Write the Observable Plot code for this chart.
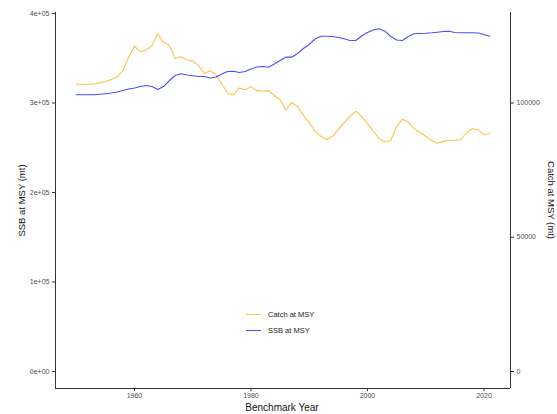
<!DOCTYPE html>
<html>
<head>
<meta charset="utf-8">
<script src="https://cdn.jsdelivr.net/npm/d3@7"></script>
<script src="https://cdn.jsdelivr.net/npm/@observablehq/plot@0.6"></script>
<style>
  html, body { margin: 0; padding: 0; background: #fff; }
  #wrap { position: relative; width: 557px; height: 414px; font-family: "Liberation Sans", Arial, sans-serif; }
  #legend { position: absolute; left: 246px; top: 306px; font-size: 7.5px; color: #222; }
  .item { display: flex; align-items: center; height: 16px; }
  .key { width: 15px; height: 0; border-top: 1.3px solid; margin-right: 7px; }
</style>
</head>
<body>
<div id="wrap"><div id="legend"></div></div>
<script>
const years = d3.range(1950, 2022);
const catchMSY = [
  107000,107000,107000,107000,107500,108000,108700,109800,112000,116900,
  121200,119100,119700,121300,125800,122500,121500,116600,117200,116000,
  115700,113900,111000,112000,110500,107100,103500,103000,105600,104900,
  106100,104600,104400,104600,102800,101200,97400,100200,98700,95400,
  92700,89400,87600,86300,87600,90200,92700,94900,97000,94900,
  92300,89400,86800,85500,86100,91200,94000,92900,90500,89000,
  87600,86100,85000,85700,86100,86100,86300,89000,90400,90000,
  88100,88800
];
const ssbMSY = [
  309200,309200,309200,309200,309800,310400,311100,312300,314000,315600,
  316800,318400,319500,318400,315100,318400,325100,330700,332600,331300,
  330500,329600,329600,327900,329000,332400,335200,335500,334100,335200,
  338000,340200,340800,340000,343600,347500,351200,351200,355300,360900,
  365400,371500,374500,374500,374300,373200,371700,369800,369800,374900,
  378800,381600,382900,380200,374300,370400,369800,374300,377300,377700,
  377900,378400,379100,379900,380200,378800,378400,378400,378400,378200,
  376500,374600
];
const seriesNames = ["Catch at MSY", "SSB at MSY"];
const seriesColors = ["orange", "blue"];
const leftTicks = [0, 100000, 200000, 300000, 400000];
const leftTickLabels = ["0e+00", "1e+05", "2e+05", "3e+05", "4e+05"];
const rightTicks = [0, 50000, 100000];
const xTicks = [1960, 1980, 2000, 2020];
const secRatio = 3; // catch axis = SSB / 3

const rows = [];
years.forEach((yr, i) => {
  rows.push({year: yr, value: catchMSY[i] * secRatio, series: seriesNames[0]});
  rows.push({year: yr, value: ssbMSY[i], series: seriesNames[1]});
});

const xDom = [1946.45, 2024.55];
const yDom = [-19000, 401100];

const chart = Plot.plot({
  width: 557,
  height: 414,
  marginLeft: 55,
  marginRight: 47,
  marginTop: 12,
  marginBottom: 26,
  style: {fontFamily: "Liberation Sans, Arial, sans-serif", background: "white", overflow: "visible"},
  x: {domain: xDom},
  y: {domain: yDom},
  color: {domain: seriesNames, range: seriesColors},
  marks: [
    Plot.ruleX([xDom[0]], {stroke: "#333", strokeWidth: 1}),
    Plot.ruleX([xDom[1]], {stroke: "#333", strokeWidth: 1}),
    Plot.ruleY([yDom[0]], {stroke: "#333", strokeWidth: 1}),
    Plot.axisY({anchor: "left", ticks: leftTicks, tickFormat: (d, i) => leftTickLabels[leftTicks.indexOf(d)],
      tickSize: 3, tickPadding: 3, fontSize: 7, fill: "#4d4d4d", stroke: "#333",
      label: "SSB at MSY (mt)", labelAnchor: "center", labelArrow: "none", labelOffset: 37}),
    Plot.axisY({anchor: "right", ticks: rightTicks.map(d => d * secRatio), tickFormat: d => String(Math.round(d / secRatio)),
      tickSize: 3, tickPadding: 3, fontSize: 7, fill: "#4d4d4d", stroke: "#333",
      label: null}),
    Plot.axisX({ticks: xTicks, tickFormat: d => String(d), tickSize: 3, tickPadding: 2, fontSize: 7,
      fill: "#4d4d4d", stroke: "#333", label: null}),
    Plot.lineY(rows, {x: "year", y: "value", stroke: "series", z: "series", strokeWidth: 1.1, strokeOpacity: 0.7})
  ]
});

const wrap = document.getElementById("wrap");
wrap.insertBefore(chart, wrap.firstChild);

// axis titles
const svg = d3.select(chart);
svg.append("text").attr("x", 282).attr("y", 411).attr("text-anchor", "middle")
  .attr("font-size", 10).attr("fill", "#111").text("Benchmark Year");
svg.append("text").attr("transform", "translate(548,200) rotate(90)").attr("text-anchor", "middle")
  .attr("font-size", 9.5).attr("fill", "#111").text("Catch at MSY (mt)");
svg.selectAll("[aria-label='y-axis label'] text, g[aria-label='y-axis label']")
  .attr("font-size", 9.5).attr("fill", "#111");

const legend = document.getElementById("legend");
seriesNames.forEach((n, i) => {
  const it = document.createElement("div");
  it.className = "item";
  const k = document.createElement("span");
  k.className = "key";
  k.style.borderColor = seriesColors[i];
  k.style.opacity = 0.7;
  const t = document.createElement("span");
  t.textContent = n;
  it.appendChild(k); it.appendChild(t);
  legend.appendChild(it);
});
</script>
</body>
</html>
